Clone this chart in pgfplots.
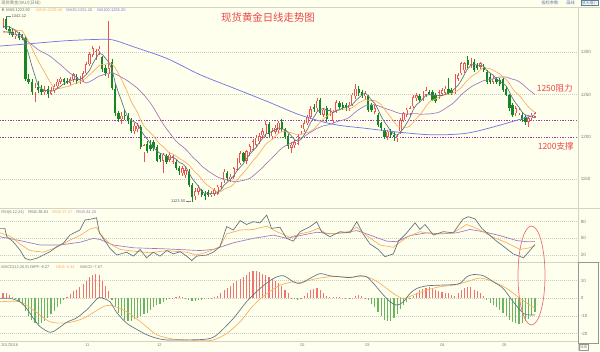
\documentclass[border=0pt]{standalone}
\usepackage{pgfplots}
\pgfplotsset{compat=1.18}
\usepackage{pgfplotstable}
\usepackage{fontspec}
\setmainfont{Liberation Sans}
\newfontfamily\cjk{Noto Sans CJK SC}

\definecolor{bg}{RGB}{255,255,238}
\definecolor{sepc}{RGB}{212,212,196}
\definecolor{gridc}{RGB}{205,205,192}
\definecolor{upred}{RGB}{236,82,82}
\definecolor{dngreen}{RGB}{20,135,35}
\definecolor{ma5c}{RGB}{95,115,128}
\definecolor{ma10c}{RGB}{250,172,92}
\definecolor{ma20c}{RGB}{160,120,190}
\definecolor{ma100c}{RGB}{118,118,232}
\definecolor{dotc}{RGB}{165,55,165}
\definecolor{annred}{RGB}{235,70,75}
\definecolor{hred}{RGB}{240,115,115}
\definecolor{hgreen}{RGB}{105,180,95}
\definecolor{labc}{RGB}{125,125,125}
\definecolor{btnc}{RGB}{95,125,160}

\pgfplotstableread{
k o h l c
-7 1332 1340 1329 1337
-6 1339 1342.12 1326 1328
-5 1328 1331 1320 1323
-4 1324 1327 1318 1320
-3 1320 1325 1316 1322
-2 1322 1324 1315 1317
-1 1320 1322 1314 1317
0 1317 1319 1266 1268
1 1268 1274 1262 1265
2 1265 1268 1250 1253
3 1253 1264 1241 1258
4 1259 1266 1252 1256
5 1257 1261 1249 1253
6 1253 1260 1250 1255
7 1257 1260 1246 1251
8 1251 1259 1249 1255
9 1255 1263 1252 1260
10 1260 1268 1257 1265
11 1265 1271 1262 1269
12 1269 1270 1261 1265
13 1266 1270 1262 1264
14 1264 1271 1261 1268
15 1268 1276 1265 1274
16 1271 1274 1262 1266
17 1266 1272 1263 1268
18 1267 1278 1265 1275
19 1275 1288 1273 1286
20 1286 1300 1284 1298
21 1297 1308 1294 1305
22 1294 1304 1291 1301
23 1301 1307 1297 1304
24 1294 1296 1277 1280
25 1281 1285 1272 1275
26 1274 1337 1270 1281
27 1288 1292 1255 1258
28 1257 1262 1225 1228
29 1228 1231 1218 1221
30 1221 1230 1215 1225
31 1226 1232 1220 1225
32 1225 1228 1215 1219
33 1219 1222 1205 1207
34 1207 1216 1204 1213
35 1209 1216 1206 1213
36 1212 1214 1186 1188
37 1182 1192 1171 1190
38 1192 1195 1181 1184
39 1191 1196 1183 1186
40 1194 1197 1184 1187
41 1188 1190 1170 1172
42 1179 1181 1171 1174
43 1172 1181 1157 1179
44 1177 1180 1168 1171
45 1173 1182 1170 1179
46 1171 1180 1168 1177
47 1171 1173 1161 1163
48 1163 1166 1155 1160
49 1157 1166 1154 1163
50 1155 1164 1152 1161
51 1159 1162 1141 1143
52 1143 1146 1123.5 1129
53 1130 1140 1125 1136
54 1135 1143 1131 1140
55 1137 1139 1129 1131
56 1133 1136 1126 1130
57 1135 1137 1129 1131
58 1132 1136 1129 1134
59 1133 1140 1130 1137
60 1133 1143 1131 1141
61 1141 1147 1138 1145
62 1149 1162 1146 1159
63 1157 1160 1148 1151
64 1150 1156 1147 1153
65 1153 1165 1150 1163
66 1161 1175 1160 1173
67 1169 1183 1167 1181
68 1181 1182 1170 1172
69 1172 1185 1168 1183
70 1182 1192 1177 1189
71 1185 1198 1183 1195
72 1191 1202 1188 1199
73 1195 1205 1192 1201
74 1202 1210 1199 1207
75 1203 1219 1200 1215
76 1215 1218 1200 1203
77 1201 1210 1198 1207
78 1206 1214 1203 1211
79 1208 1219 1205 1217
80 1218 1221 1206 1209
81 1208 1210 1198 1200
82 1201 1204 1186 1189
83 1187 1194 1181 1191
84 1190 1196 1187 1194
85 1192 1204 1190 1201
86 1207 1214 1203 1211
87 1209 1219 1206 1216
88 1216 1226 1214 1224
89 1224 1236 1221 1233
90 1235 1239 1229 1233
91 1234 1246 1231 1243
92 1244 1246 1226 1228
93 1226 1234 1223 1232
94 1234 1236 1218 1221
95 1228 1234 1225 1232
96 1219 1232 1216 1230
97 1230 1244 1228 1241
98 1240 1243 1232 1235
99 1238 1241 1232 1234
100 1238 1240 1231 1234
101 1234 1241 1231 1238
102 1238 1252 1236 1250
103 1248 1262 1245 1257
104 1257 1260 1248 1252
105 1253 1256 1246 1250
106 1248 1254 1244 1251
107 1248 1250 1230 1232
108 1238 1240 1229 1232
109 1230 1238 1227 1234
110 1226 1228 1212 1214
111 1216 1218 1207 1210
112 1208 1210 1198 1200
113 1200 1208 1196 1206
114 1206 1209 1199 1202
115 1202 1206 1195 1200
116 1199 1203 1194 1201
117 1207 1222 1204 1220
118 1220 1230 1218 1228
119 1226 1234 1224 1232
120 1228 1237 1225 1234
121 1236 1249 1234 1247
122 1246 1252 1243 1249
123 1248 1251 1241 1244
124 1246 1254 1243 1251
125 1250 1259 1247 1255
126 1253 1256 1249 1251
127 1253 1256 1242 1244
128 1249 1252 1240 1242
129 1248 1256 1245 1253
130 1251 1258 1248 1255
131 1252 1260 1249 1257
132 1257 1270 1250 1252
133 1255 1258 1249 1252
134 1253 1274 1251 1271
135 1269 1276 1266 1273
136 1275 1289 1273 1287
137 1279 1289 1276 1287
138 1291 1296 1282 1285
139 1285 1293 1282 1291
140 1289 1292 1277 1279
141 1285 1287 1279 1281
142 1283 1289 1280 1287
143 1283 1286 1277 1279
144 1277 1279 1263 1265
145 1271 1274 1262 1265
146 1265 1272 1262 1269
147 1269 1271 1262 1265
148 1267 1270 1260 1263
149 1269 1271 1253 1255
150 1257 1259 1248 1250
151 1249 1251 1231 1234
152 1238 1240 1224 1226
153 1228 1236 1225 1234
154 1228 1234 1226 1232
155 1226 1229 1218 1220
156 1224 1226 1214 1218
157 1218 1224 1212 1222
158 1222 1228 1219 1226
159 1224 1230 1222 1228
}\candles

\pgfplotstableread{
k ma5 ma10 ma20 hist
-7 1330 1323 1325 3
-6 1331 1324 1324 3
-5 1330 1325 1323 2
-4 1328 1325 1322 1
-3 1326 1326 1321 -0.5
-2 1322 1326 1320 -2
-1 1319.8 1325.4 1318 -4
0 1308.8 1319.4 1315 -7
1 1297.8 1312.9 1312 -10
2 1284 1305 1309 -12
3 1272.2 1297.1 1306 -14
4 1260 1289.9 1303 -14.5
5 1257 1282.9 1301 -14
6 1255 1276.4 1299 -12.5
7 1254.6 1269.3 1297 -11
8 1254 1263.1 1294.6 -9
9 1254.8 1257.4 1291.4 -7
10 1257.2 1257.1 1288.3 -5
11 1260 1257.5 1285.2 -3
12 1262.8 1258.7 1281.9 -1
13 1264.6 1259.3 1278.2 1
14 1266.2 1260.5 1275.2 2.5
15 1268 1262.6 1272.8 4
16 1267.4 1263.7 1270.1 5
17 1268 1265.4 1267.4 6.5
18 1270.2 1267.4 1265.3 8
19 1273.8 1270 1263.7 10
20 1278.6 1273.3 1265.2 12
21 1286.4 1276.9 1267.2 13
22 1293 1280.5 1269.6 14
23 1298.8 1284.5 1271.9 13
24 1297.6 1285.7 1273.1 10
25 1293 1285.8 1274.2 7
26 1288.2 1287.3 1275.5 4
27 1279.6 1286.3 1275.9 -1
28 1264.4 1281.6 1274.5 -5
29 1252.6 1275.1 1272.6 -8
30 1242.6 1267.8 1270.6 -10
31 1231.4 1259.8 1268.4 -12
32 1223.6 1251.6 1266.1 -13
33 1219.4 1241.9 1263.2 -12.5
34 1217.8 1235.2 1260.5 -11.5
35 1215.4 1229 1257.4 -11
36 1208 1219.7 1253.5 -10
37 1202.2 1212.9 1249.6 -9
38 1197.6 1208.5 1245.1 -8
39 1192.2 1205 1240.1 -6.5
40 1187 1201.2 1234.5 -5
41 1183.8 1195.9 1227.9 -4
42 1180.6 1191.4 1221.5 -3
43 1179.6 1188.6 1215.3 -2
44 1176.6 1184.4 1209.8 -1
45 1175 1181 1205 -0.5
46 1176 1179.9 1199.8 0.3
47 1173.8 1177.2 1195.1 0.8
48 1170 1174.8 1191.7 1.2
49 1168.4 1172.5 1188.8 1
50 1164.8 1169.9 1185.6 0.5
51 1158 1167 1181.5 -0.8
52 1151.2 1162.5 1177 -1.5
53 1146.4 1158.2 1173.4 -1.2
54 1141.8 1155.1 1169.8 -1
55 1135.8 1150.3 1165.7 -0.8
56 1133.2 1145.6 1162.8 -0.5
57 1133.6 1142.4 1159.8 -0.3
58 1133.2 1139.8 1157.3 0.3
59 1132.6 1137.2 1154.9 0.8
60 1134.6 1135.2 1152.6 1.5
61 1137.6 1135.4 1151.2 3
62 1143.2 1138.4 1150.5 4.5
63 1146.6 1139.9 1149.1 6
64 1149.8 1141.2 1148.2 7
65 1154.2 1144.4 1147.4 8.5
66 1159.8 1148.7 1147.2 10
67 1164.2 1153.7 1148.1 11
68 1168.4 1157.5 1148.7 12
69 1174.4 1162.1 1149.7 13.5
70 1179.6 1166.9 1151.1 15
71 1184 1171.9 1153.7 15.5
72 1187.6 1175.9 1157.2 15.5
73 1193.4 1180.9 1160.4 15
74 1198.2 1186.3 1163.8 14
75 1203.4 1191.5 1168 13.5
76 1205 1194.5 1171.6 12
77 1206.6 1197.1 1175.4 11
78 1208.6 1201 1179.3 10
79 1210.6 1204.4 1183.3 9
80 1209.4 1206.4 1186.7 7
81 1208.8 1206.9 1189.4 5
82 1205.2 1205.9 1190.9 3
83 1201.2 1204.9 1192.9 0.5
84 1196.6 1203.6 1195 -0.5
85 1195 1202.2 1196.9 -1
86 1197.2 1203 1198.8 0.5
87 1202.6 1203.9 1200.5 1.5
88 1209.2 1205.2 1203.1 3
89 1217 1206.8 1205.6 4.5
90 1223.4 1209.2 1207.8 5.5
91 1229.8 1213.5 1210.2 6
92 1232.2 1217.4 1211.7 4.5
93 1233.8 1221.5 1213.2 3
94 1231.4 1224.2 1213.9 1.5
95 1231.2 1227.3 1214.8 1
96 1228.6 1229.2 1216.1 0.8
97 1231.2 1231.7 1217.8 1
98 1231.8 1232.8 1219 0.8
99 1234.4 1232.9 1219.9 0.3
100 1234.8 1233 1221.1 0.2
101 1236.4 1232.5 1223 -0.3
102 1238.2 1234.7 1226.1 0.3
103 1242.6 1237.2 1229.4 1.5
104 1246.2 1240.3 1232.3 2
105 1249.4 1242.1 1234.7 1.5
106 1252 1244.2 1236.7 0.5
107 1248.4 1243.3 1237.5 -1
108 1243.4 1243 1237.9 -3
109 1239.8 1243 1238 -5
110 1232.6 1241 1237 -7.5
111 1224.4 1238.2 1235.4 -10
112 1218 1233.2 1234 -12
113 1212.8 1228.1 1232.7 -12.5
114 1206.4 1223.1 1231.7 -12.5
115 1203.6 1218.1 1230.1 -11
116 1201.8 1213.1 1228.7 -9
117 1205.8 1211.9 1227.6 -6
118 1210.2 1211.5 1227.3 -4
119 1216.2 1211.3 1227.2 -2
120 1223 1213.3 1227.2 -0.5
121 1232.2 1217 1227.6 1.5
122 1238 1221.9 1227.6 3
123 1241.2 1225.7 1226.9 4.5
124 1245 1230.6 1226.9 5.5
125 1249.2 1236.1 1227.1 6
126 1250 1241.1 1227.1 6.5
127 1249 1243.5 1227.7 5.5
128 1248.6 1244.9 1228.2 4.5
129 1249 1247 1229.2 4
130 1249 1249.1 1231.2 3.5
131 1250.2 1250.1 1233.6 3
132 1251.8 1250.4 1236.2 3
133 1253.8 1251.2 1238.5 2
134 1257.4 1253.2 1241.9 1.5
135 1261 1255 1245.6 3
136 1267 1258.6 1249.9 5
137 1274 1262.9 1253.2 6
138 1280.6 1267.2 1256.1 6.5
139 1284.6 1271 1259 6.5
140 1285.8 1273.4 1261.3 5
141 1284.6 1275.8 1263 4
142 1284.6 1279.3 1264.9 3
143 1283.4 1282 1266.6 1.5
144 1278.2 1281.4 1267.3 -1
145 1275.4 1280.6 1267.8 -2.5
146 1273 1278.8 1268.7 -3.5
147 1268.6 1276.6 1269.8 -5
148 1265.4 1274.4 1270.8 -6.5
149 1263.4 1270.8 1270.9 -8
150 1260.4 1267.9 1270.7 -10
151 1253.4 1263.2 1269.5 -12
152 1245.6 1257.1 1268.2 -13.5
153 1239.8 1252.6 1267.3 -14
154 1235.2 1249.3 1265.4 -14.5
155 1229.2 1244.8 1262.7 -14
156 1226 1239.7 1259.3 -13
157 1225.2 1235.4 1256 -11.5
158 1223.6 1231.7 1253.1 -9.5
159 1222.8 1229 1249.9 -7.67
}\ind

\pgfplotstableread{
k v
-7.9 1307.4
2.5 1310.5
12.9 1313.7
23.3 1315.3
27.4 1314.5
33.7 1306.6
44.1 1292.8
54.5 1273.5
64.8 1258
75.4 1242
85.7 1226
96 1215
106.6 1210
116.9 1205.5
127.2 1202.5
137.8 1204.5
148.1 1214
159 1226.2
}\mahundred

\pgfplotstableread{
k v
-7.9 68
-6.4 68
-5.8 53
-3.8 44
-1.7 29
-0.1 14
1.4 11
3.5 14
5.6 20
7.7 26
9.8 35
11.8 41
13.9 56
17 65
18.6 83
20.7 85
22.2 87
23.1 60
24.3 50
26.4 32
28.5 20
31.6 25
33.7 18
35.8 30
37.8 15
39.9 25
42 18
44.1 28
46.2 22
48.3 26
50.3 18
51.9 10
53.4 18
56.6 20
58.6 25
60.7 35
62.8 71
64.9 65
67 82
69 75
71.1 80
73.2 78
75.3 92
76.8 68
79.4 70
81.5 50
83.6 45
85.7 62
88.8 71
90.9 80
92.4 62
95 53
98.2 62
101.3 60
103.4 80
105.4 58
107.5 40
110.1 30
112.2 17
114.8 22
116.4 45
119 60
121.6 78
123.1 66
124.7 75
127.3 56
130.4 62
133.5 60
136.6 85
138.2 89
140.3 85
142.4 68
144.4 58
147 45
149.1 36
152.2 22
155.4 15
157.4 28
159 38.81
}\rsione

\pgfplotstableread{
k v
-7.9 60
-4.8 54
-1.7 40
1.4 28
5.6 25
9.8 34
13.9 47
17 55
20.2 67
22.2 70
23.3 58
26.4 40
29.5 30
33.7 27
38.9 24
44.1 28
50.3 25
53.4 20
56.6 25
60.7 35
62.8 58
67 65
71.1 66
75.3 72
78.4 62
82.5 52
85.7 58
88.8 62
91.4 68
94 58
100.2 60
103.4 70
106.5 55
110.6 38
114.8 34
119 52
123.1 62
127.3 58
133.5 60
137.7 75
140.8 68
146 52
150.2 42
154.3 30
157.4 33
159 37.57
}\rsitwo

\pgfplotstableread{
k v
-7.9 53
-1.7 46
4.6 38
10.8 38
17 43
21.2 50
23.3 48
27.4 38
33.7 33
44.1 31
54.5 28
58.6 30
64.9 42
71.1 50
77.4 56
81.5 50
85.7 55
90.9 61
96.1 58
103.4 64
107.5 56
112.7 45
115.8 44
120 55
125.2 60
129.4 58
134.6 60
138.7 66
142.9 62
148.1 55
153.3 46
156.4 44
159 44.2
}\rsithree

\pgfplotstableread{
k v
-7.9 0
-4.8 0
-1.7 -1.9
0.4 -5.7
2.5 -11.3
4.6 -16
7.7 -19.2
9.8 -17.5
12.9 -13.5
16 -11
19.1 -6.5
21.2 -2.5
22.8 0.4
24.3 0
26.4 -1.9
28.5 -8
31.6 -14
34.7 -17.5
37.8 -20.5
40.9 -22.5
44.1 -23.5
50.3 -23.5
56.6 -23
59.7 -20.7
64.9 -11.3
69 -1.9
73.2 5.6
77.4 11.3
80.5 12.8
83.6 9.4
85.7 8.5
88.8 11.3
91.9 14
95 12.8
98.2 12.2
101.3 11.8
104.4 12.8
106.5 12.2
108.6 8.5
111.7 1.9
113.8 -1.9
115.8 -3.8
117.9 -2
120 2.8
122.1 5.6
125.2 7.1
129.4 7.5
133.5 7.8
135.6 8.5
137.7 12.2
139.8 13.5
142.9 12.8
146 9.4
149.1 5.6
152.2 -1.9
155.4 -8.5
157.4 -9.4
159 -9.27
}\diff

\pgfplotstableread{
k v
-7.9 -1.9
-1.7 -1.9
2.5 -6.6
7.7 -13.2
12.9 -13.8
18.1 -11.3
23.3 -5.7
26.4 -3.8
31.6 -7.5
36.8 -14.5
40.9 -20.5
46.1 -23
50.3 -23.5
54.5 -24
58.7 -23.5
62.8 -19.8
67 -13.2
71.2 -3.8
75.4 2.8
79.5 7.5
83.6 9.4
85.7 9
90.9 11.2
96.1 12.4
101.3 12
106.5 12.2
110.6 8.5
114.8 2.8
117.9 0
121 1.9
125.2 4.7
129.4 6.6
133.5 7.5
137.7 9.4
141.8 11.5
146 9.4
150.2 5.6
154.3 0
157.4 -3.8
159 -5.44
}\dea

\pgfplotsset{
  panel/.style={
    scale only axis, width=433.5pt, xmin=-7.925, xmax=172.42,
    axis lines=none, ticks=none,
    clip=true, anchor=south west},
  gridl/.style={draw=gridc, dash pattern=on 0.75pt off 0.75pt, line width=0.4pt, no markers, forget plot},
  cndl/.style 2 args={draw=none, no markers, forget plot,
    error bars/.cd, y dir=both, y explicit, error mark=none,
    error bar style={draw=#1, line width=#2}, /pgfplots/.cd},
}

\newcommand\tf{\fontsize{3.0}{3.4}\selectfont}

\begin{document}
\begin{tikzpicture}[x=0.75pt,y=0.75pt]
\path[use as bounding box] (0,0) rectangle (600,351);
\fill[bg] (0,0) rectangle (600,351);

% ---------- main price panel ----------
\begin{axis}[panel, at={(0pt,107.25pt)}, height=150.75pt,
  ymin=1116.1, ymax=1353.5]
\addplot[gridl] coordinates {(-8,1150) (173,1150)};
\addplot[gridl] coordinates {(-8,1250) (173,1250)};
\addplot[gridl] coordinates {(-8,1300) (173,1300)};
\addplot[dotc, line width=0.6pt, dash pattern=on 1pt off 1pt, no markers] coordinates {(-8,1220) (173,1220)};
\addplot[dotc, line width=0.6pt, dash pattern=on 1pt off 1pt, no markers] coordinates {(-8,1200) (173,1200)};
% wicks
\addplot[restrict expr to domain={\thisrow{c}-\thisrow{o}}{0:1000}, cndl={upred}{0.45pt}]
  table[x=k, y expr={(\thisrow{h}+\thisrow{l})/2}, y error expr={(\thisrow{h}-\thisrow{l})/2}]{\candles};
\addplot[restrict expr to domain={\thisrow{c}-\thisrow{o}}{-1000:-0.001}, cndl={dngreen}{0.45pt}]
  table[x=k, y expr={(\thisrow{h}+\thisrow{l})/2}, y error expr={(\thisrow{h}-\thisrow{l})/2}]{\candles};
% bodies
\addplot[restrict expr to domain={\thisrow{c}-\thisrow{o}}{0:1000}, cndl={upred}{1.75pt}]
  table[x=k, y expr={(\thisrow{o}+\thisrow{c})/2}, y error expr={max(abs(\thisrow{c}-\thisrow{o})/2,0.4)}]{\candles};
\addplot[restrict expr to domain={\thisrow{c}-\thisrow{o}}{0:1000}, cndl={bg}{0.8pt}]
  table[x=k, y expr={(\thisrow{o}+\thisrow{c})/2}, y error expr={max(abs(\thisrow{c}-\thisrow{o})/2-0.6,0)}]{\candles};
\addplot[restrict expr to domain={\thisrow{c}-\thisrow{o}}{-1000:-0.001}, cndl={dngreen}{1.75pt}]
  table[x=k, y expr={(\thisrow{o}+\thisrow{c})/2}, y error expr={max(abs(\thisrow{c}-\thisrow{o})/2,0.4)}]{\candles};
% moving averages
\addplot[ma100c, line width=0.55pt, smooth, no markers] table[x=k,y=v]{\mahundred};
\addplot[ma20c, line width=0.5pt, no markers] table[x=k,y=ma20]{\ind};
\addplot[ma10c, line width=0.5pt, no markers] table[x=k,y=ma10]{\ind};
\addplot[ma5c, line width=0.5pt, no markers] table[x=k,y=ma5]{\ind};
\end{axis}

% ---------- RSI panel ----------
\begin{axis}[panel, at={(0pt,66.75pt)}, height=40.5pt,
  ymin=7.4, ymax=104.7]
\addplot[gridl] coordinates {(-8,20) (173,20)};
\addplot[gridl] coordinates {(-8,50) (173,50)};
\addplot[gridl] coordinates {(-8,80) (173,80)};
\addplot[ma20c, line width=0.5pt, no markers] table[x=k,y=v]{\rsithree};
\addplot[ma10c, line width=0.5pt, no markers] table[x=k,y=v]{\rsitwo};
\addplot[ma5c, line width=0.5pt, no markers] table[x=k,y=v]{\rsione};
\end{axis}

% ---------- MACD panel ----------
\begin{axis}[panel, at={(0pt,7.5pt)}, height=59.25pt,
  ymin=-24.1, ymax=20.6]
\addplot[gridl] coordinates {(-8,-20) (173,-20)};
\addplot[gridl] coordinates {(-8,-10) (173,-10)};
\addplot[gridl] coordinates {(-8,0) (173,0)};
\addplot[gridl] coordinates {(-8,10) (173,10)};
\addplot[ycomb, draw=hred, line width=0.85pt, no markers, restrict y to domain=0:100] table[x=k,y=hist]{\ind};
\addplot[ycomb, draw=hgreen, line width=0.85pt, no markers, restrict y to domain=-100:0] table[x=k,y=hist]{\ind};
\addplot[ma10c, line width=0.5pt, smooth, no markers] table[x=k,y=v]{\dea};
\addplot[ma5c, line width=0.5pt, smooth, no markers] table[x=k,y=v]{\diff};
\end{axis}

% ---------- frame lines ----------
\draw[sepc, line width=0.5pt] (0,344) -- (600,344);
\draw[sepc, line width=0.5pt] (0,143) -- (600,143);
\draw[sepc, line width=0.5pt] (0,89) -- (600,89);
\draw[sepc, line width=0.5pt] (0,10) -- (578,10);
\draw[sepc, line width=0.5pt] (578,0) -- (578,344);
\draw[labc!80, line width=0.45pt] (578,89) rectangle (598.5,8);
\draw[labc!80, line width=0.4pt] (579,1) rectangle (588,7);
\node[labc, font=\cjk\fontsize{2.6}{3}\selectfont] at (583.5,4) {日线};

% ---------- header texts ----------
\node[labc, anchor=west, font=\cjk\fontsize{3.2}{3.6}\selectfont, inner sep=0] at (1,348) {现货黄金(XAU)(日线)};
\node[btnc, anchor=west, font=\cjk\fontsize{3.2}{3.6}\selectfont, inner sep=0] at (541,348) {指标参数};
\node[btnc, anchor=west, font=\cjk\fontsize{3.2}{3.6}\selectfont, inner sep=0] at (566,348) {画线};
\draw[btnc, line width=0.4pt] (581,345.5) rectangle (598,350.5);
\node[btnc, font=\cjk\fontsize{2.8}{3}\selectfont, inner sep=0] at (589.5,348) {放大缩小};

\node[ma5c!60!black, anchor=west, font=\tf, inner sep=0] at (1.5,340.5) {K};
\node[ma5c, anchor=west, font=\tf, inner sep=0] at (6,340.5) {MA5:1223.92};
\node[ma10c, anchor=west, font=\tf, inner sep=0] at (36,340.5) {MA10:1229.40};
\node[ma20c, anchor=west, font=\tf, inner sep=0] at (66,340.5) {MA20:1251.26};
\node[ma100c, anchor=west, font=\tf, inner sep=0] at (97,340.5) {MA100:1226.20};

\node[labc, anchor=west, font=\tf, inner sep=0] at (1,138.5) {RSI(6,12,24)};
\node[ma5c, anchor=west, font=\tf, inner sep=0] at (28,138.5) {RSI1:38.81};
\node[ma10c, anchor=west, font=\tf, inner sep=0] at (52,138.5) {RSI2:37.57};
\node[ma20c, anchor=west, font=\tf, inner sep=0] at (76,138.5) {RSI3:44.20};

\node[labc, anchor=west, font=\tf, inner sep=0] at (1,84) {MACD(12,26,9)};
\node[ma5c, anchor=west, font=\tf, inner sep=0] at (30,84) {DIFF:-9.27};
\node[ma10c, anchor=west, font=\tf, inner sep=0] at (56,84) {DEA:-5.44};
\node[labc, anchor=west, font=\tf, inner sep=0] at (80,84) {MACD:-7.67};

% high / low markers
\draw[labc, line width=0.4pt] (6,334.4) -- (11,334.4);
\node[labc!70!black, anchor=west, font=\tf, inner sep=0] at (11.5,334.6) {1342.12};
\draw[labc, line width=0.4pt] (186,149.3) -- (190.5,149.3);
\node[labc!70!black, anchor=east, font=\tf, inner sep=0] at (185.5,149.5) {1123.50};

% right axis labels
\foreach \v/\yy in {1300/298.7, 1250/256.4, 1200/214, 1150/171.7, 80/129.3, 50/112.7, 20/96, 10/70.3, 0/52.7, -10/35, -20/17.3}
  \node[labc, anchor=west, font=\fontsize{3.4}{3.8}\selectfont, inner sep=0] at (580.5,\yy) {\v};

% date labels
\foreach \d/\xx in {2016/09/1, 11/85, 12/157, 2017/01/223, 02/300, 03/365, 04/440, 05/502}
  \node[labc, anchor=west, font=\tf, inner sep=0] at (\xx,5.5) {\d};

% title & annotations
\node[annred, font=\cjk\fontsize{7.8}{8.5}\selectfont, inner sep=0] at (268,333.5) {现货黄金日线走势图};
\node[annred, anchor=west, font=\cjk\fontsize{6.4}{7}\selectfont, inner sep=0] at (536.5,262.5) {1250阻力};
\node[annred, anchor=west, font=\cjk\fontsize{6.4}{7}\selectfont, inner sep=0] at (537.5,205) {1200支撑};

% highlight ellipse
\draw[annred!75, line width=0.55pt] (531.5,75.5) ellipse [x radius=13.5, y radius=49.5];
\end{tikzpicture}
\end{document}
